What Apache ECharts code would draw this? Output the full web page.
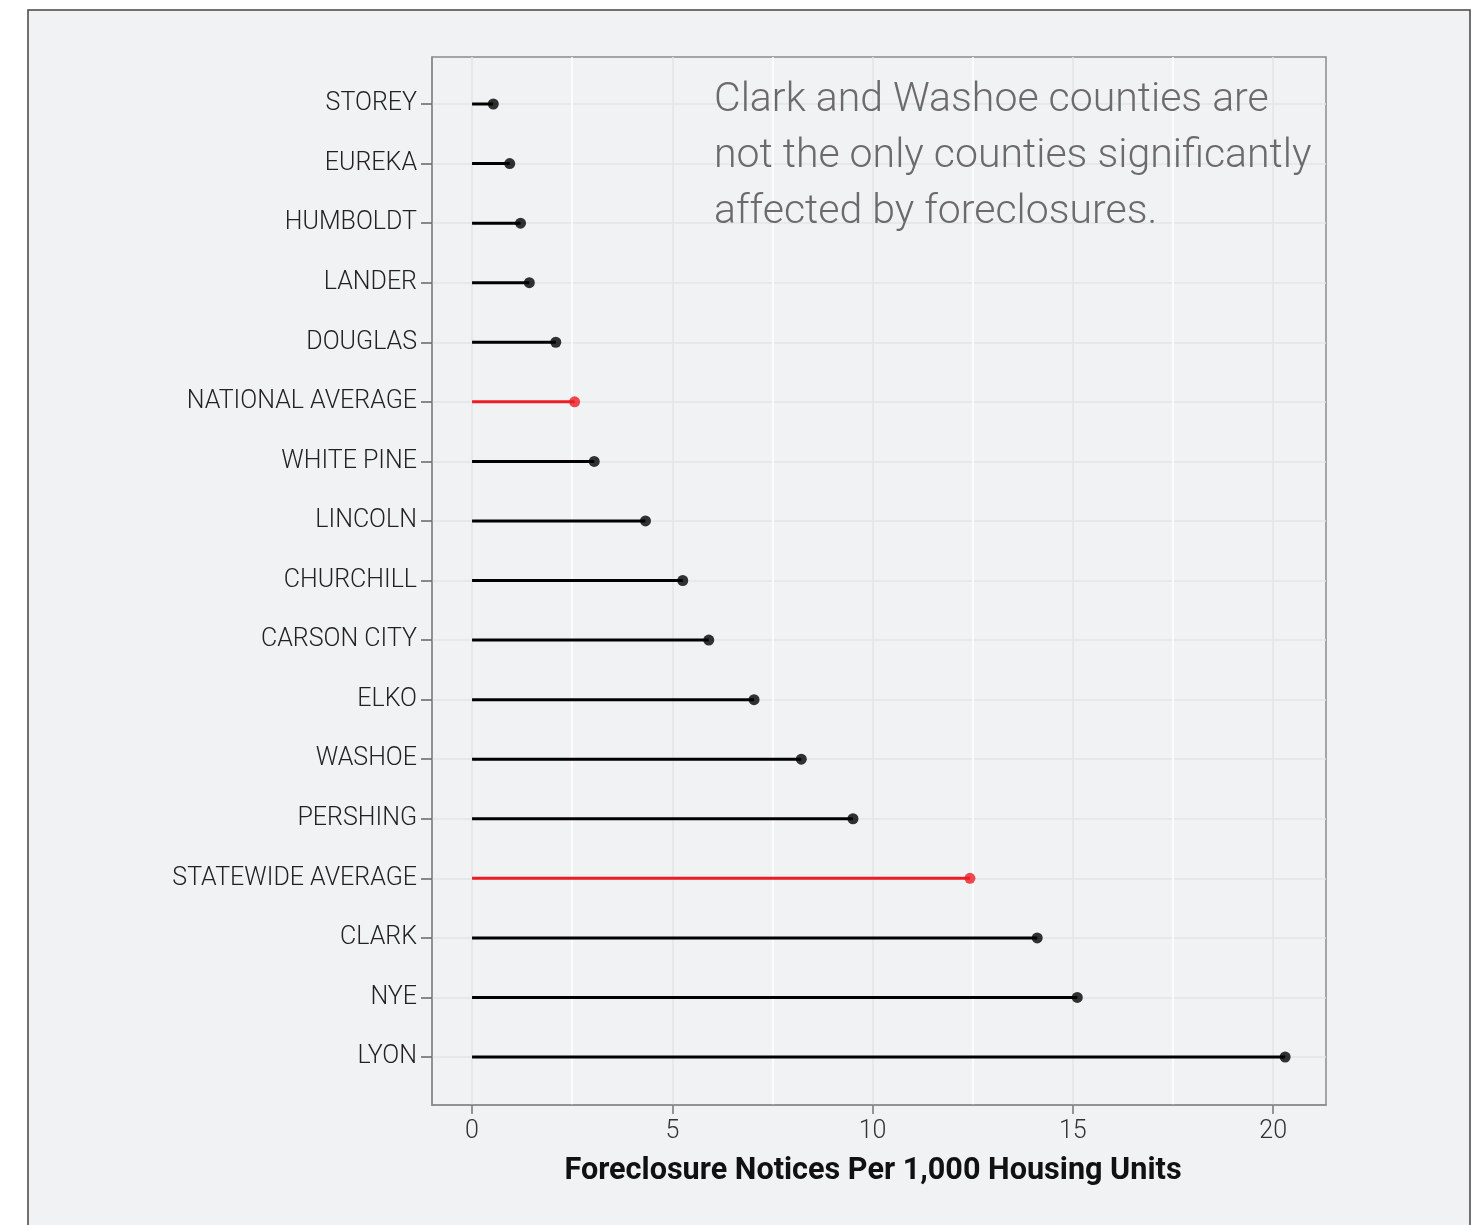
<!DOCTYPE html>
<html>
<head>
<meta charset="utf-8">
<script src="https://cdn.jsdelivr.net/npm/echarts@6/dist/echarts.min.js"></script>
<style>
  html, body { margin: 0; padding: 0; background: #fff; }
  #main { width: 1483px; height: 1225px; }
</style>
</head>
<body>
<div id="main"></div>
<script>
// 数据
const counties = ['STOREY', 'EUREKA', 'HUMBOLDT', 'LANDER', 'DOUGLAS', 'NATIONAL AVERAGE', 'WHITE PINE',
  'LINCOLN', 'CHURCHILL', 'CARSON CITY', 'ELKO', 'WASHOE', 'PERSHING', 'STATEWIDE AVERAGE', 'CLARK', 'NYE', 'LYON'];
const notices = [0.53, 0.94, 1.21, 1.43, 2.09, 2.56, 3.05, 4.33, 5.26, 5.91, 7.04, 8.22, 9.51, 12.43, 14.11, 15.11, 20.3];
const averages = ['NATIONAL AVERAGE', 'STATEWIDE AVERAGE'];
const xTicks = [0, 5, 10, 15, 20];
const note = 'Clark and Washoe counties are\nnot the only counties significantly\naffected by foreclosures.';
const xTitle = 'Foreclosure Notices Per 1,000 Housing Units';

const colorOf = name => averages.indexOf(name) >= 0 ? '#ec1c24' : '#000';
const font = 'Roboto';

let myChart = echarts.init(document.getElementById('main'));
myChart.setOption({
  backgroundColor: '#fff',
  animation: false,
  graphic: [{
    type: 'rect', z: -10, silent: true,
    shape: { x: 28, y: 10, width: 1442, height: 1240 },
    style: { fill: '#f1f2f4', stroke: '#444', lineWidth: 1.5 }
  }, {
    type: 'text', x: 714, y: 157, z: 100, silent: true,
    style: {
      text: note, fill: '#6b6b6b', font: '300 41px Roboto',
      lineHeight: 56, verticalAlign: 'middle', align: 'left'
    }
  }],
  grid: [
    // 外框和横轴
    { left: 432, right: 157, top: 57, bottom: 120, show: true, backgroundColor: 'transparent', borderColor: '#8c8c8c', borderWidth: 1.5 },
    // 竖向网格线
    { left: 472, right: 210, top: 57, bottom: 120 },
    // 数据
    { left: 432, right: 157, top: 104, bottom: 168 }
  ],
  xAxis: [{
    gridIndex: 0, type: 'value', min: -1, max: 21.32,
    axisLine: { show: true, lineStyle: { color: '#8c8c8c', width: 1.5 } },
    axisTick: { show: true, customValues: xTicks, length: 9, lineStyle: { color: '#777', width: 1.5 } },
    axisLabel: { customValues: xTicks, margin: 14, fontFamily: font, fontWeight: 300, fontSize: 25, color: '#333' },
    splitLine: { show: false },
    name: xTitle, nameLocation: 'middle', nameGap: 66,
    nameTextStyle: { fontFamily: font, fontWeight: 'bold', fontSize: 30.6, color: '#111', verticalAlign: 'middle', padding: [0, 12, 0, 0] }
  }, {
    gridIndex: 1, type: 'value', min: 0, max: 20, interval: 2.5,
    axisLine: { show: false }, axisTick: { show: false }, axisLabel: { show: false },
    splitLine: { show: true, lineStyle: { color: ['#e3e4e6', '#ffffff'], width: 1.5 } }
  }, {
    gridIndex: 2, type: 'value', min: -1, max: 21.32, show: false
  }],
  yAxis: [{
    gridIndex: 0, type: 'value', min: 0, max: 1,
    axisLine: { show: true, onZero: false, lineStyle: { color: '#8c8c8c', width: 1.5 } },
    axisTick: { show: false }, axisLabel: { show: false }, splitLine: { show: false }
  }, {
    gridIndex: 1, type: 'value', min: 0, max: 1, show: false
  }, {
    gridIndex: 2, type: 'category', data: counties, inverse: true, boundaryGap: false,
    axisLine: { show: false, onZero: false },
    axisTick: { show: true, length: 11, lineStyle: { color: '#666', width: 1.5 } },
    axisLabel: { margin: 15, fontFamily: font, fontWeight: 300, fontSize: 25, color: '#222' },
    splitLine: { show: true, lineStyle: { color: '#e3e4e6', width: 1.5 } }
  }],
  series: [{
    type: 'bar', xAxisIndex: 2, yAxisIndex: 2, barWidth: 3,
    data: notices.map((v, i) => ({ value: v, itemStyle: { color: colorOf(counties[i]) } }))
  }, {
    type: 'scatter', xAxisIndex: 2, yAxisIndex: 2, symbolSize: 11,
    data: notices.map((v, i) => ({ value: [v, counties[i]], itemStyle: { color: colorOf(counties[i]) } }))
  }]
});
</script>
</body>
</html>
